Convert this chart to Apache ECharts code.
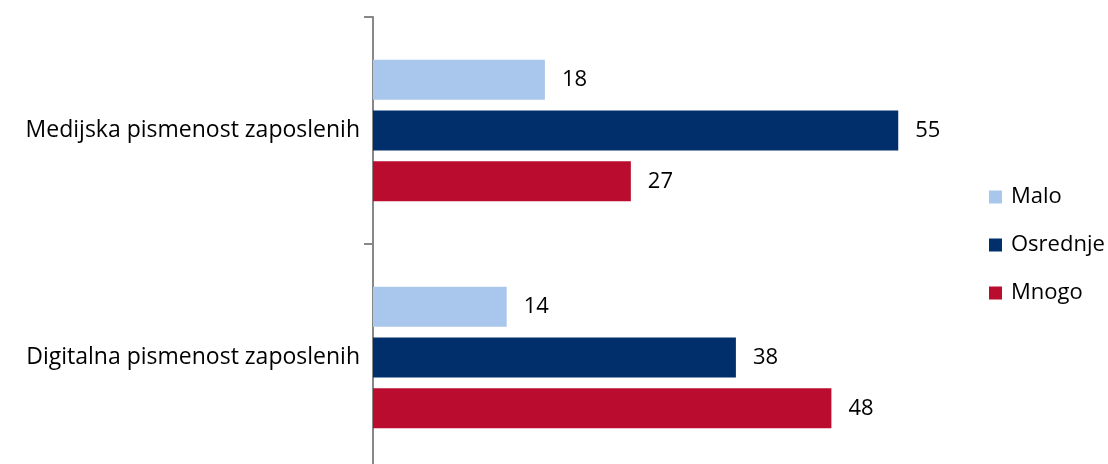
<!DOCTYPE html>
<html>
<head>
<meta charset="utf-8">
<script src="https://cdn.jsdelivr.net/npm/echarts@6/dist/echarts.min.js"></script>
<style>
  html, body { margin: 0; padding: 0; background: #fff; overflow: hidden; }
  #chart { width: 1108px; height: 472px; }
</style>
</head>
<body>
<div id="chart"></div>
<script>
var categories = ['Medijska pismenost zaposlenih', 'Digitalna pismenost zaposlenih'];
var seriesNames = ['Malo', 'Osrednje', 'Mnogo'];
var maloValues = [18, 14];
var osrednjeValues = [55, 38];
var mnogoValues = [27, 48];
var colors = ['#A9C7ED', '#002F6C', '#BA0C2F'];

var fontFamily = 'Open Sans';

function makeSeries(name, values, color) {
    return {
        name: name,
        type: 'bar',
        data: values,
        barWidth: 40,
        barGap: '27%',
        itemStyle: { color: color },
        label: {
            show: true,
            position: 'right',
            distance: 17,
            color: '#000',
            fontSize: 22,
            fontFamily: fontFamily
        }
    };
}

var myChart = echarts.init(document.getElementById('chart'), null, { renderer: 'canvas' });

// the chart box is a bit taller than the window: the bottom band runs past the edge
var option = {
    animation: false,
    grid: {
        left: 373,
        right: 162,
        top: 17,
        height: 454
    },
    legend: {
        orient: 'vertical',
        left: 984,
        top: 181,
        itemWidth: 13,
        itemHeight: 13,
        itemGap: 26,
        icon: 'rect',
        data: seriesNames,
        textStyle: {
            fontSize: 22,
            fontFamily: fontFamily,
            color: '#000',
            padding: [0, 0, 0, 4]
        }
    },
    xAxis: {
        type: 'value',
        min: 0,
        max: 60,
        show: false
    },
    yAxis: {
        type: 'category',
        inverse: true,
        data: categories,
        axisLine: { show: true, lineStyle: { color: '#878787', width: 2 } },
        axisTick: { show: true, length: 9, lineStyle: { color: '#878787', width: 2 } },
        axisLabel: {
            margin: 13,
            color: '#000',
            fontSize: 23,
            fontFamily: fontFamily
        }
    },
    series: [
        makeSeries(seriesNames[0], maloValues, colors[0]),
        makeSeries(seriesNames[1], osrednjeValues, colors[1]),
        makeSeries(seriesNames[2], mnogoValues, colors[2])
    ]
};

myChart.setOption(option);
</script>
</body>
</html>
